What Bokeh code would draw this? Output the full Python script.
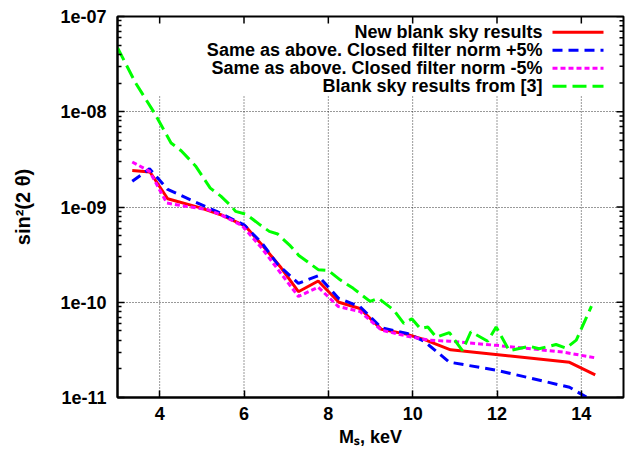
from bokeh.plotting import figure
from bokeh.models import (FixedTicker, CustomJSTickFormatter, Label, Arrow, Range1d)
from bokeh.embed import file_html
from bokeh.resources import INLINE

# ---------------- data ----------------
red_x = [3.35, 3.77, 4.19, 4.97, 5.45, 6.03, 6.45, 6.88, 7.29, 7.76, 8.25, 8.75,
         9.26, 9.87, 10.28, 10.9, 13.72, 14.33]
red_y = [2.42e-9, 2.33e-9, 1.22e-9, 9.8e-10, 8.3e-10, 6.3e-10, 3.9e-10, 2.3e-10,
         1.29e-10, 1.67e-10, 1.0e-10, 8.6e-11, 5.2e-11, 4.6e-11, 4.05e-11, 3.17e-11,
         2.34e-11, 1.73e-11]

blue_x = [3.35, 3.76, 4.19, 4.8, 5.35, 6.0, 6.42, 6.8, 7.29, 7.76, 8.24, 8.75,
          9.26, 9.87, 10.27, 10.87, 12.02, 13.72, 14.33]
blue_y = [1.86e-9, 2.52e-9, 1.53e-9, 1.15e-9, 9.0e-10, 6.5e-10, 4.2e-10, 2.5e-10,
          1.58e-10, 1.9e-10, 1.1e-10, 9.0e-11, 5.4e-11, 4.7e-11, 3.9e-11, 2.35e-11,
          1.92e-11, 1.28e-11, 8.9e-12]

mag_x = [3.35, 3.76, 4.17, 4.6, 5.14, 5.45, 5.95, 6.42, 6.79, 7.29, 7.76, 8.24,
         8.75, 9.26, 9.87, 10.39, 10.87, 11.98, 13.56, 14.33]
mag_y = [2.97e-9, 2.37e-9, 1.1e-9, 1.02e-9, 9.4e-10, 8.3e-10, 6.4e-10, 3.7e-10,
         2.25e-10, 1.15e-10, 1.44e-10, 9.0e-11, 8.0e-11, 5.1e-11, 4.4e-11, 4.0e-11,
         3.9e-11, 3.53e-11, 3.0e-11, 2.61e-11]

green_x = [3.0, 3.43, 3.87, 4.27, 4.51, 4.85, 5.2, 5.45, 5.7, 5.8, 6.05, 6.38, 6.6,
           6.8, 7.1, 7.3, 7.76, 8.0, 8.28, 8.59, 8.99, 9.19, 9.55, 9.79, 9.98,
           10.18, 10.36, 10.56, 10.87, 11.18, 11.38, 11.78, 11.98, 12.29, 12.77,
           13.0, 13.4, 13.64, 13.88, 14.24]
green_y = [4.7e-8, 2.0e-8, 9.8e-9, 4.7e-9, 3.9e-9, 2.7e-9, 1.58e-9, 1.3e-9, 1.02e-9,
           9.0e-10, 8.4e-10, 6.5e-10, 5.55e-10, 5.2e-10, 3.9e-10, 3.1e-10, 2.2e-10,
           2.15e-10, 1.72e-10, 1.4e-10, 1.02e-10, 1.1e-10, 8.3e-11, 6.0e-11, 6.7e-11,
           5.3e-11, 5.5e-11, 4.3e-11, 4.8e-11, 3.1e-11, 4.9e-11, 3.9e-11, 5.5e-11,
           3.1e-11, 3.45e-11, 3.25e-11, 3.6e-11, 3.3e-11, 4.0e-11, 9.1e-11]

legend_labels = ["New blank sky results",
                 "Same as above. Closed filter norm +5%",
                 "Same as above. Closed filter norm -5%",
                 "Blank sky results from [3]"]

x_title = "M\u209b, keV"
y_title = "sin\u00b2(2 \u03b8)"

x_ticks = [4, 6, 8, 10, 12, 14]
y_ticks = [1e-11, 1e-10, 1e-9, 1e-8, 1e-7]
y_minor = [k * 10.0 ** e for e in range(-11, -7) for k in range(2, 10)]

# ---------------- styles / layout ----------------
FONT = "Liberation Sans"
FS = "18px"
W, H = 625, 451
BL, BR, BT, BB = 117, 2, 16, 54
FW, FH = W - BL - BR, H - BT - BB
X0, X1 = 3, 15
Y0, Y1 = 1e-11, 1e-7
DEC = 4.0  # decades shown

series = [
    (red_x, red_y, "#ff0000", "solid"),
    (blue_x, blue_y, "#0000ff", "10 6"),
    (mag_x, mag_y, "#ff00ff", "5 3"),
    (green_x, green_y, "#00ff00", "14 6"),
]

p = figure(width=W, height=H, x_range=Range1d(X0, X1), y_range=Range1d(Y0, Y1),
           y_axis_type="log", output_backend="svg", toolbar_location=None,
           min_border_left=BL, min_border_right=BR, min_border_top=BT,
           min_border_bottom=BB)
p.background_fill_color = "white"
p.border_fill_color = "white"
p.outline_line_color = "black"
p.outline_line_width = 2

xt = FixedTicker(ticks=x_ticks)
yt = FixedTicker(ticks=y_ticks, minor_ticks=y_minor)
fmt = CustomJSTickFormatter(code="""
const e = Math.round(Math.log10(tick));
const a = Math.abs(e);
return "1e" + (e < 0 ? "-" : "+") + (a < 10 ? "0" + a : "" + a);
""")

bottom = p.below[0]
left = p.left[0]
bottom.ticker = xt
left.ticker = yt
left.formatter = fmt

for ax in [bottom, left]:
    ax.axis_line_color = "black"
    ax.axis_line_width = 2
    ax.major_tick_in = 7
    ax.major_tick_out = 0
    ax.minor_tick_in = 4
    ax.minor_tick_out = 0
    ax.major_tick_line_color = "black"
    ax.major_tick_line_width = 1.5
    ax.minor_tick_line_color = "black"
    ax.minor_tick_line_width = 1.5
    ax.major_label_text_font = FONT
    ax.major_label_text_font_style = "bold"
    ax.major_label_text_font_size = FS
    ax.major_label_text_color = "black"
    ax.axis_label_text_font = FONT
    ax.axis_label_text_font_style = "bold"
    ax.axis_label_text_color = "black"
bottom.minor_tick_line_color = None
bottom.major_label_standoff = 9
left.major_label_standoff = 11

bottom.axis_label = x_title
bottom.axis_label_text_font_size = FS
bottom.axis_label_standoff = 4
left.axis_label = y_title
left.axis_label_text_font_size = "20px"
left.axis_label_standoff = 23

# mirrored tick marks on the top and right edges (gnuplot style)
dx_per_px = (X1 - X0) / FW
dlog_per_px = DEC / FH
rx0 = [X1 - 7 * dx_per_px] * len(y_ticks) + [X1 - 4 * dx_per_px] * len(y_minor)
ry = y_ticks + y_minor
p.segment(x0=rx0, y0=ry, x1=[X1] * len(ry), y1=ry, line_color="black", line_width=1.5)
p.segment(x0=x_ticks, y0=[Y1 * 10 ** (-7 * dlog_per_px)] * len(x_ticks),
          x1=x_ticks, y1=[Y1] * len(x_ticks), line_color="black", line_width=1.5)

# grid: horizontal via Bokeh grid, vertical drawn stopping below the key
p.xgrid.grid_line_color = None
p.ygrid.ticker = yt
p.ygrid.grid_line_color = "black"
p.ygrid.grid_line_alpha = 0.8
p.ygrid.grid_line_dash = "1 2"
p.ygrid.grid_line_width = 1
p.segment(x0=x_ticks, y0=[Y0] * len(x_ticks), x1=x_ticks, y1=[1.5e-8] * len(x_ticks),
          line_color="black", line_alpha=0.8, line_dash="1 2", line_width=1)

# data lines
for xs, ys, col, dash in series:
    p.line(xs, ys, line_color=col, line_width=3, line_dash=dash)

# key (gnuplot style: text right-aligned, sample on the right)
row_y = [365.3, 347.3, 329.3, 311.3]
for (xs, ys, col, dash), lab, yy in zip(series, legend_labels, row_y):
    p.add_layout(Label(x=425, y=yy, x_units="screen", y_units="screen", text=lab,
                       text_font=FONT, text_font_style="bold", text_font_size=FS,
                       text_align="right", text_baseline="middle", text_color="black"))
    p.add_layout(Arrow(x_start=435, y_start=yy, x_end=486, y_end=yy,
                       start_units="screen", end_units="screen", start=None, end=None,
                       line_color=col, line_width=3, line_dash=dash))

open("out.html", "w").write(file_html(p, INLINE))
